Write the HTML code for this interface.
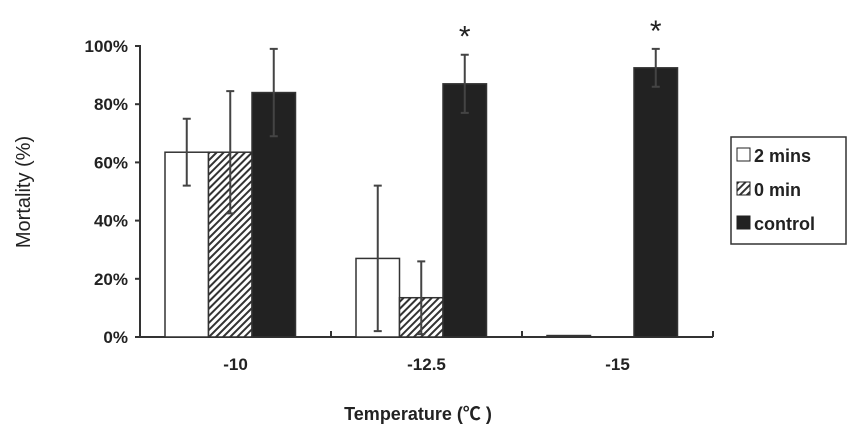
<!DOCTYPE html>
<html><head><meta charset="utf-8"><style>
body{margin:0;background:#fff;}
svg text{font-family:"Liberation Sans",Arial,sans-serif;fill:#222;}
</style></head><body>
<svg width="863" height="438" viewBox="0 0 863 438">
<defs><pattern id="hatch" width="5" height="5" patternUnits="userSpaceOnUse" patternTransform="rotate(45)"><rect width="5" height="5" fill="#fff"/><rect width="2" height="5" fill="#333"/></pattern></defs>
<g id="plot"></g>
<text x="30" y="192" transform="rotate(-90 30 192)" text-anchor="middle" font-size="20">Mortality (%)</text>
<text x="418" y="420" text-anchor="middle" font-size="18" font-weight="bold">Temperature (<tspan font-family="Noto Sans CJK SC">℃</tspan> )</text>
<g>
<rect x="731" y="137" width="115" height="107" fill="#fff" stroke="#333" stroke-width="1.5"/>
<rect x="737" y="148" width="13" height="13" fill="#fff" stroke="#222"/>
<text x="754" y="162" font-size="18" font-weight="bold">2 mins</text>
<rect x="737" y="182" width="13" height="13" fill="url(#hatch)" stroke="#222"/>
<text x="754" y="196" font-size="18" font-weight="bold">0 min</text>
<rect x="737" y="216" width="13" height="13" fill="#222" stroke="#222"/>
<text x="754" y="230" font-size="18" font-weight="bold">control</text>
</g>
</svg>
<script>
const categories=["-10","-12.5","-15"];
const seriesNames=["2 mins","0 min","control"];
const twoMins=[63.5,27,0.5];
const zeroMin=[63.5,13.5,0];
const control=[84,87,92.5];
const twoMinsErr=[11.5,25,0];
const zeroMinErr=[21,12.5,0];
const controlErr=[15,10,6.5];
const significant=[false,true,true];
const yTicks=[0,20,40,60,80,100];
const tickLabels=["0%","20%","40%","60%","80%","100%"];

const NS="http://www.w3.org/2000/svg";
const g=document.getElementById('plot');
const X0=140,X1=713,Y0=337,Y1=46;
const catW=(X1-X0)/categories.length;
const y=v=>Y0-(v/100)*(Y0-Y1);
const barW=43.5, grpOff=25;
function mk(t,a){const e=document.createElementNS(NS,t);for(const k in a)e.setAttribute(k,a[k]);g.appendChild(e);return e;}
// axes
let e=mk('line',{x1:X0,y1:Y1-1,x2:X0,y2:Y0,stroke:'#333','stroke-width':2});


e=mk('line',{x1:X0,y1:Y0,x2:X1,y2:Y0,stroke:'#333','stroke-width':2});


yTicks.forEach((t,i)=>{
  let l=mk('line',{x1:X0-5,y1:y(t),x2:X0,y2:y(t),stroke:'#333','stroke-width':2});
  
  
  let tx=mk('text',{x:X0-12,y:y(t)+6,'text-anchor':'end','font-size':17,'font-weight':'bold'});
  tx.textContent=tickLabels[i];
  
  
});
for(let i=0;i<=categories.length;i++){
  let l=mk('line',{x1:X0+i*catW,y1:Y0,x2:X0+i*catW,y2:Y0-6,stroke:'#333','stroke-width':2});
  
  
}
const series=[twoMins,zeroMin,control], errs=[twoMinsErr,zeroMinErr,controlErr];
const fills=['#fff','url(#hatch)','#222'];
categories.forEach((c,i)=>{
  const cx=X0+i*catW;
  let tx=mk('text',{x:cx+catW/2,y:Y0+33,'text-anchor':'middle','font-size':17,'font-weight':'bold'});
  tx.textContent=c;
  
  
  series.forEach((s,j)=>{
    const bx=cx+grpOff+j*barW, v=s[i];
    if(v>0){
      let r=mk('rect',{x:bx,y:y(v),width:barW,height:Y0-y(v),fill:fills[j],stroke:'#333','stroke-width':1.5});
      
      
    }
    const er=errs[j][i];
    if(er>0){
      const mx=bx+barW/2;
      let l=mk('path',{d:`M${mx},${y(v-er)}V${y(v+er)}M${mx-4},${y(v+er)}H${mx+4}M${mx-4},${y(v-er)}H${mx+4}`,stroke:'#444','stroke-width':2,fill:'none'});
      
      
    }
  });
  if(significant[i]){
    const mx=cx+grpOff+2.5*barW;
    let a=mk('text',{x:mx,y:y(control[i]+controlErr[i])-8,'text-anchor':'middle','font-size':30});
    a.textContent='*';
    
    
  }
});
</script>
</body></html>
